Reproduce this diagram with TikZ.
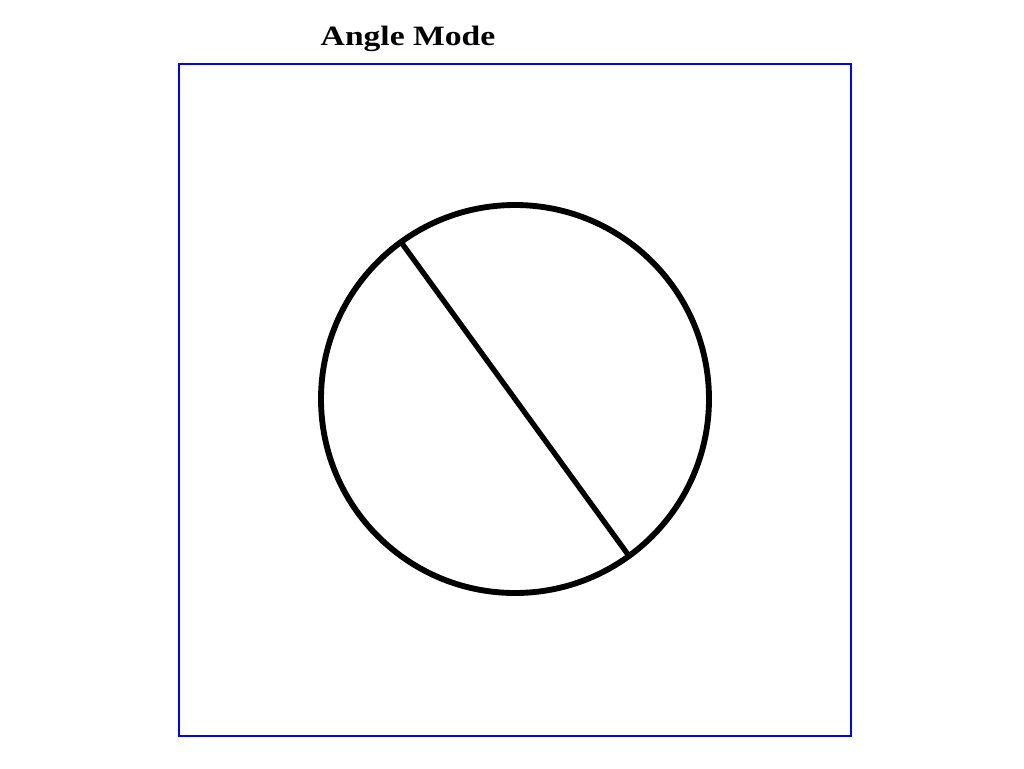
\documentclass[tikz,border=0pt]{standalone}
\usepackage{fontspec}
\setmainfont{Liberation Serif}
\newfontfamily\titlefont[FakeStretch=1.2]{Liberation Serif}
\usetikzlibrary{positioning, calc}

\begin{document}
\begin{tikzpicture}[x=0.75pt, y=-0.75pt, frame/.style={draw=blue, rectangle, minimum size=504pt, line width=1.9pt, inner sep=0pt, outer sep=0pt}, dial/.style={draw, circle, minimum size=291pt, line width=4.4pt, inner sep=0pt, outer sep=0pt}, needle/.style={line width=4pt}]
\useasboundingbox (0,0) rectangle (1024,768);
\node[frame] (Frame) at (515,400) {};
\node[anchor=base, font=\titlefont\bfseries\fontsize{21}{25}\selectfont] (Title) at (408,45) {Angle Mode};
\node[dial] (Dial) at (515,399) {};
\draw[needle] (Dial.126) -- (Dial.-54);
\end{tikzpicture}
\end{document}
